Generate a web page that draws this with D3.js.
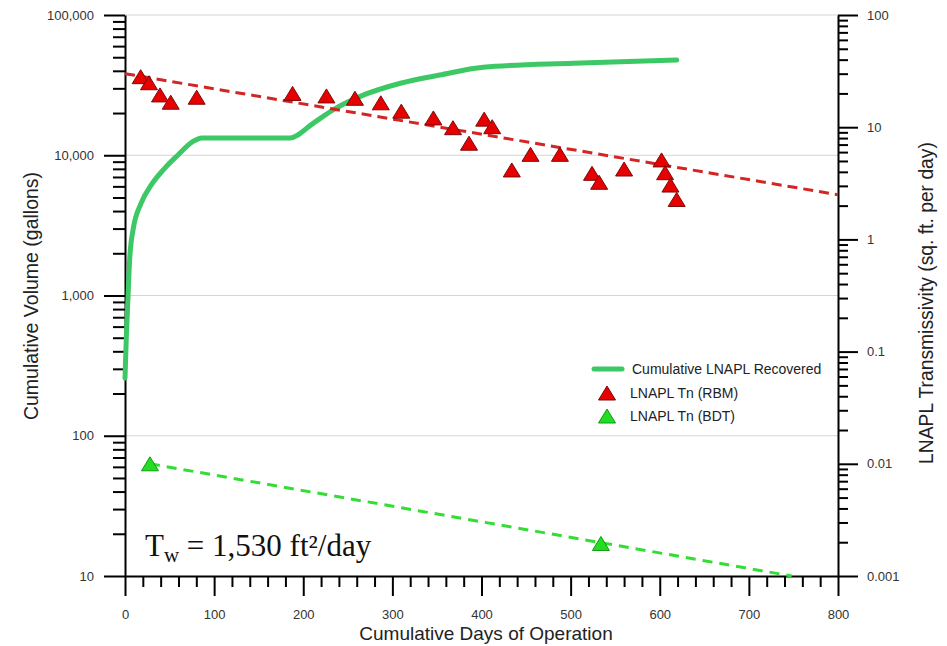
<!DOCTYPE html>
<html>
<head>
<meta charset="utf-8">
<script src="https://cdn.jsdelivr.net/npm/d3@7"></script>
<style>
  html, body { margin: 0; padding: 0; background: #fff; }
  svg { display: block; font-family: "Liberation Sans", Arial, sans-serif; }
</style>
</head>
<body>
<svg id="chart" width="947" height="646"></svg>
<script>
// Cumulative LNAPL recovered (gallons) against days of operation
const volumeDays    = [0, 1.5, 3.4, 5.2, 9, 18, 29.5, 44.5, 59.5, 76, 86, 185, 211, 233, 264, 309, 353, 402, 503, 619];
const volumeGallons = [257, 510, 980, 1790, 2930, 4540, 6140, 8070, 10050, 12500, 13300, 13300, 16900, 21000, 26300, 32600, 37300, 42400, 45300, 47700];

// LNAPL transmissivity from recovery-based method (sq. ft. per day)
const rbmDays = [17.6, 26.9, 39.3, 51.3, 80.4, 188, 226, 258, 287, 310, 346, 368, 386, 403, 412, 434, 455, 488, 524, 532, 560, 602, 606, 612, 619];
const rbmTn   = [28.2, 24.9, 19.4, 16.7, 18.5, 20.0, 19.0, 18.1, 16.5, 13.9, 12.1, 9.9, 7.2, 11.8, 10.1, 4.16, 5.73, 5.73, 3.88, 3.23, 4.24, 5.11, 3.93, 3.05, 2.27];

// LNAPL transmissivity from baildown tests
const bdtDays = [28, 534];
const bdtTn   = [0.01, 0.00195];

// Trend lines through each transmissivity set
const rbmTrendDays = [0, 800];
const rbmTrendTn   = [30, 2.5];
const bdtTrendDays = [28, 748];
const bdtTrendTn   = [0.01, 0.001];

// Axis ticks
const dayMajorTicks = [0, 100, 200, 300, 400, 500, 600, 700, 800];
const dayMinorTicks = d3.range(0, 801, 20).filter(d => d % 100 !== 0);
const volMajorTicks = [10, 100, 1000, 10000, 100000];
const tnMajorTicks  = [0.001, 0.01, 0.1, 1, 10, 100];
const tnLabels      = ["0.001", "0.01", "0.1", "1", "10", "100"];

const legendLabels = ["Cumulative LNAPL Recovered", "LNAPL Tn (RBM)", "LNAPL Tn (BDT)"];
const annotation = { main: "T", sub: "w", rest: " = 1,530 ft\u00B2/day" };

const svg = d3.select("#chart");

const x  = d3.scaleLinear().domain([0, 800]).range([125, 838]);
const yL = d3.scaleLog().domain([10, 100000]).range([576, 15]);
const yR = d3.scaleLog().domain([0.001, 100]).range([576, 15]);

function minorLog(majors) {
  const out = [];
  majors.slice(0, -1).forEach(p => { for (let m = 2; m <= 9; m++) out.push(+(m * p).toPrecision(6)); });
  return out;
}
const volMinorTicks = minorLog(volMajorTicks);
const tnMinorTicks  = minorLog(tnMajorTicks);

// Horizontal grid at the volume decades
svg.append("g").selectAll("line").data(volMajorTicks.slice(1)).join("line")
  .attr("x1", x(0)).attr("x2", x(800))
  .attr("y1", d => yL(d)).attr("y2", d => yL(d))
  .attr("stroke", "#d4d4d4").attr("stroke-width", 1);

function styleAxis(g) {
  g.selectAll("path.domain").attr("stroke", "#000").attr("stroke-width", 2);
  g.selectAll(".tick line").attr("stroke", "#000").attr("stroke-width", 2);
  g.selectAll(".tick text").attr("fill", "#333").attr("font-size", 13)
    .attr("font-family", "'Liberation Sans', Arial, sans-serif");
}

// Bottom axis
svg.append("g").attr("transform", "translate(0,576)")
  .call(d3.axisBottom(x).tickValues(dayMinorTicks).tickSize(11).tickSizeOuter(0).tickFormat(""))
  .call(styleAxis).select("path.domain").remove();
svg.append("g").attr("transform", "translate(0,576)")
  .call(d3.axisBottom(x).tickValues(dayMajorTicks).tickSize(20).tickSizeOuter(0).tickPadding(14).tickFormat(d3.format("d")))
  .call(styleAxis);

// Left axis
svg.append("g").attr("transform", "translate(125,0)")
  .call(d3.axisLeft(yL).tickValues(volMinorTicks).tickSize(12).tickSizeOuter(0).tickFormat(""))
  .call(styleAxis).select("path.domain").remove();
svg.append("g").attr("transform", "translate(125,0)")
  .call(d3.axisLeft(yL).tickValues(volMajorTicks).tickSize(21).tickSizeOuter(0).tickPadding(10).tickFormat(d3.format(",")))
  .call(styleAxis);

// Right axis
svg.append("g").attr("transform", "translate(838,0)")
  .call(d3.axisRight(yR).tickValues(tnMinorTicks).tickSize(10).tickSizeOuter(0).tickFormat(""))
  .call(styleAxis).select("path.domain").remove();
svg.append("g").attr("transform", "translate(838,0)")
  .call(d3.axisRight(yR).tickValues(tnMajorTicks).tickSize(20).tickSizeOuter(0).tickPadding(9)
    .tickFormat((d, i) => tnLabels[i]))
  .call(styleAxis);

// Axis titles
svg.append("text").attr("x", 486).attr("y", 640).attr("text-anchor", "middle")
  .attr("font-size", 19).attr("fill", "#222").text("Cumulative Days of Operation");
svg.append("text").attr("transform", "translate(38,296) rotate(-90)").attr("text-anchor", "middle")
  .attr("font-size", 19.5).attr("fill", "#222").text("Cumulative Volume (gallons)");
svg.append("text").attr("transform", "translate(933,303) rotate(-90)").attr("text-anchor", "middle")
  .attr("font-size", 19.3).attr("fill", "#222").text("LNAPL Transmissivity (sq. ft. per day)");

// Cumulative volume curve
const volLine = d3.line().x((d, i) => x(volumeDays[i])).y(d => yL(d)).curve(d3.curveMonotoneX);
svg.append("path").attr("d", volLine(volumeGallons))
  .attr("fill", "none").attr("stroke", "#3cc864").attr("stroke-width", 5)
  .attr("stroke-linecap", "round").attr("stroke-linejoin", "round");

// Trend lines
const tnLine = days => d3.line().x((d, i) => x(days[i])).y(d => yR(d));
svg.append("path").attr("d", tnLine(rbmTrendDays)(rbmTrendTn))
  .attr("fill", "none").attr("stroke", "#d42424").attr("stroke-width", 3).attr("stroke-dasharray", "10,6");
svg.append("path").attr("d", tnLine(bdtTrendDays)(bdtTrendTn))
  .attr("fill", "none").attr("stroke", "#33dd33").attr("stroke-width", 3).attr("stroke-dasharray", "10,7");

// Triangle marker centred on its bounding box
const triPath = "M0,-7L8.5,7L-8.5,7Z";

svg.append("g").selectAll("path").data(rbmTn).join("path")
  .attr("d", triPath)
  .attr("transform", (d, i) => `translate(${x(rbmDays[i])},${yR(d)})`)
  .attr("fill", "#e60000").attr("stroke", "#7a0a0a").attr("stroke-width", 1);

svg.append("g").selectAll("path").data(bdtTn).join("path")
  .attr("d", triPath)
  .attr("transform", (d, i) => `translate(${x(bdtDays[i])},${yR(d)})`)
  .attr("fill", "#22dd22").attr("stroke", "#159915").attr("stroke-width", 1);

// Legend
const lg = svg.append("g");
lg.append("line").attr("x1", 594).attr("x2", 622).attr("y1", 369).attr("y2", 369)
  .attr("stroke", "#3cc864").attr("stroke-width", 5).attr("stroke-linecap", "round");
lg.append("path").attr("d", triPath).attr("transform", "translate(607,393)")
  .attr("fill", "#e60000").attr("stroke", "#7a0a0a");
lg.append("path").attr("d", triPath).attr("transform", "translate(607,416)")
  .attr("fill", "#22dd22").attr("stroke", "#159915");
lg.selectAll("text").data(legendLabels).join("text")
  .attr("x", (d, i) => i === 0 ? 632 : 630)
  .attr("y", (d, i) => [369, 393, 416][i])
  .attr("dy", "0.35em").attr("font-size", 14).attr("fill", "#222")
  .text(d => d);

// Well transmissivity annotation
const ann = svg.append("text").attr("x", 145).attr("y", 556)
  .attr("font-family", "'Liberation Serif', 'DejaVu Serif', serif")
  .attr("font-size", 31).attr("fill", "#111");
ann.append("tspan").text(annotation.main);
ann.append("tspan").attr("font-size", 21).attr("dy", 6).text(annotation.sub);
ann.append("tspan").attr("dy", -6).text(annotation.rest);
</script>
</body>
</html>
